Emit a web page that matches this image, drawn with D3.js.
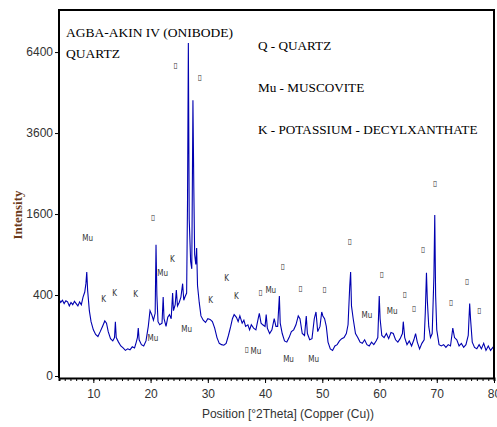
<!DOCTYPE html>
<html><head><meta charset="utf-8">
<script src="https://cdn.jsdelivr.net/npm/d3@7"></script>
<style>body{margin:0;background:#fff}</style></head>
<body><svg id="c" width="497" height="427"></svg>
<script>
const twoTheta=[4.0,4.3,4.6,4.9,5.2,5.5,5.8,6.1,6.4,6.7,7.0,7.3,7.6,7.9,8.2,8.5,8.7,8.85,9.0,9.3,9.6,10.0,10.4,10.8,11.2,11.6,12.0,12.3,12.6,13.0,13.4,13.7,13.85,14.0,14.4,14.8,15.2,15.6,16.0,16.4,16.8,17.2,17.5,17.7,17.85,18.0,18.4,18.8,19.2,19.6,19.9,20.2,20.5,20.8,20.95,21.1,21.3,21.6,22.0,22.2,22.35,22.7,23.0,23.3,23.6,23.85,24.0,24.3,24.5,24.7,25.0,25.3,25.6,25.8,26.0,26.3,26.45,26.6,26.75,27.0,27.2,27.4,27.55,27.7,27.9,28.05,28.2,28.5,28.8,29.2,29.6,30.0,30.4,30.8,31.2,31.6,32.0,32.4,32.8,33.2,33.6,34.0,34.3,34.6,35.0,35.3,35.6,36.0,36.3,36.6,37.0,37.3,37.6,38.0,38.4,38.8,39.0,39.3,39.6,40.0,40.2,40.4,40.8,41.2,41.6,41.9,42.2,42.5,42.65,43.0,43.4,43.8,44.2,44.6,45.0,45.4,45.8,46.1,46.5,46.9,47.2,47.4,47.8,48.2,48.6,48.9,49.2,49.6,49.9,50.1,50.4,50.7,51.0,51.4,51.8,52.2,52.6,53.0,53.4,53.8,54.2,54.5,54.8,54.95,55.1,55.4,55.8,56.2,56.6,57.0,57.4,57.8,58.2,58.6,59.0,59.4,59.7,59.95,60.1,60.4,60.8,61.2,61.6,62.0,62.4,62.8,63.2,63.6,64.0,64.15,64.4,64.8,65.2,65.6,66.0,66.3,66.6,67.0,67.4,67.8,68.0,68.2,68.35,68.6,68.9,69.2,69.5,69.65,69.8,70.0,70.4,70.8,71.2,71.6,72.0,72.4,72.8,73.1,73.5,73.9,74.3,74.7,75.1,75.5,75.75,75.9,76.2,76.6,77.0,77.4,77.8,78.2,78.6,79.0,79.4,79.8,80.0];
const counts=[360,330,350,320,345,335,300,330,310,340,320,300,335,310,380,430,520,660,450,260,180,130,105,95,120,150,185,170,120,85,75,90,180,90,70,55,48,40,45,42,52,48,70,90,140,80,60,55,75,150,260,230,190,240,1050,400,180,160,170,380,200,150,210,230,200,420,260,310,450,300,330,380,520,350,380,420,1800,6760,1500,800,700,4640,2200,900,760,1000,500,330,220,190,175,200,195,180,140,90,65,60,58,65,100,150,200,230,210,180,220,170,190,150,160,130,160,140,130,200,240,170,160,150,230,140,110,130,200,150,150,390,170,110,75,70,90,120,130,160,220,200,110,100,220,110,80,85,200,250,120,150,250,220,200,150,70,45,40,55,60,75,85,90,110,160,500,660,300,200,110,90,70,65,80,60,55,70,60,75,90,390,200,100,90,110,85,115,110,80,70,85,110,180,90,60,75,55,80,110,70,45,65,80,250,650,350,150,90,110,600,1580,400,130,60,55,60,50,60,55,140,90,80,55,65,50,60,100,320,200,70,50,45,60,45,65,40,55,40,50,45];
const yTicks=[0,400,1600,3600,6400];
const xTicks=[10,20,30,40,50,60,70,80];
const labels=[[24.35,5935,"▯"],[28.6,5487,"▯"],[20.4,1560,"▯"],[9.0,1178,"Mu"],[11.8,371,"K"],[13.7,430,"K"],[17.4,420,"K"],[22.1,660,"Mu"],[23.8,850,"K"],[20.4,93,"Mu"],[26.3,140,"Mu"],[30.5,361,"K"],[33.3,598,"K"],[35.0,400,"K"],[36.8,48,"▯"],[38.4,41,"Mu"],[39.2,440,"▯"],[41.0,461,"Mu"],[43.1,751,"▯"],[46.2,483,"▯"],[50.4,472,"▯"],[44.1,20,"Mu"],[48.5,20,"Mu"],[54.8,1128,"▯"],[60.4,647,"▯"],[57.8,234,"Mu"],[62.2,266,"Mu"],[64.4,420,"▯"],[66.0,290,"▯"],[67.6,999,"▯"],[69.7,2295,"▯"],[72.5,343,"▯"],[75.3,562,"▯"],[77.4,274,"▯"]];
const legend=["Q - QUARTZ","Mu - MUSCOVITE","K - POTASSIUM - DECYLXANTHATE"];

const svg=d3.select("#c");
const L=59,R=494,T=10,B=378;
const x=d3.scaleLinear().domain([4,80]).range([L,R]);
const y=d3.scaleSqrt().domain([0,8170]).range([376,T]);
const data=twoTheta.map((t,i)=>[t,counts[i]]);
svg.append("path").datum(data).attr("fill","none").attr("stroke","#0000b0").attr("stroke-width",1.1)
 .attr("d",d3.line().x(d=>x(d[0])).y(d=>y(d[1])));
svg.append("path").attr("d",`M${L},${B}V${T}H${R}V${B}`).attr("fill","none").attr("stroke","#000").attr("stroke-width",2);
const sans="Liberation Sans Narrow, Liberation Sans, sans-serif";
const ga=svg.append("g").attr("transform",`translate(0,${B})`)
 .call(d3.axisBottom(x).tickValues(d3.range(4,81,1)).tickSize(3).tickFormat(""));
ga.select(".domain").attr("stroke-width",2);
const gx=svg.append("g").attr("transform",`translate(0,${B})`)
 .call(d3.axisBottom(x).tickValues(xTicks).tickSize(5).tickPadding(6));
gx.select(".domain").remove();
gx.selectAll("text").attr("font-family",sans).attr("font-size",12).attr("fill","#333");
const gy=svg.append("g").attr("transform",`translate(${L},0)`)
 .call(d3.axisLeft(y).tickValues(yTicks).tickFormat(d3.format("d")).tickSize(4).tickPadding(2));
gy.select(".domain").remove();
gy.selectAll("text").attr("font-family",sans).attr("font-size",12).attr("fill","#333");
svg.append("text").attr("transform","translate(22,215) rotate(-90)").attr("text-anchor","middle")
 .attr("font-family","Liberation Serif, serif").attr("font-size",13).attr("font-weight","bold").attr("fill","#6b3a1a").text("Intensity");
svg.append("text").attr("x",288).attr("y",418).attr("text-anchor","middle")
 .attr("font-family",sans).attr("font-size",12).attr("fill","#333").text("Position [°2Theta] (Copper (Cu))");
const serif="Liberation Serif, serif";
svg.append("text").attr("x",66).attr("y",37).attr("font-family",serif).attr("font-size",13.5).text("AGBA-AKIN IV (ONIBODE)");
svg.append("text").attr("x",66).attr("y",58).attr("font-family",serif).attr("font-size",13.5).text("QUARTZ");
legend.forEach((s,i)=>svg.append("text").attr("x",258).attr("y",[50,92,134][i]).attr("font-family",serif).attr("font-size",13.2).text(s));
svg.selectAll(".lab").data(labels).enter().append("text").attr("class","lab")
 .attr("x",d=>x(d[0])).attr("y",d=>y(d[1])+4).attr("text-anchor","middle")
 .attr("font-family","DejaVu Sans Condensed, sans-serif").attr("font-size",8).attr("fill","#333").text(d=>d[2]);
</script></body></html>
